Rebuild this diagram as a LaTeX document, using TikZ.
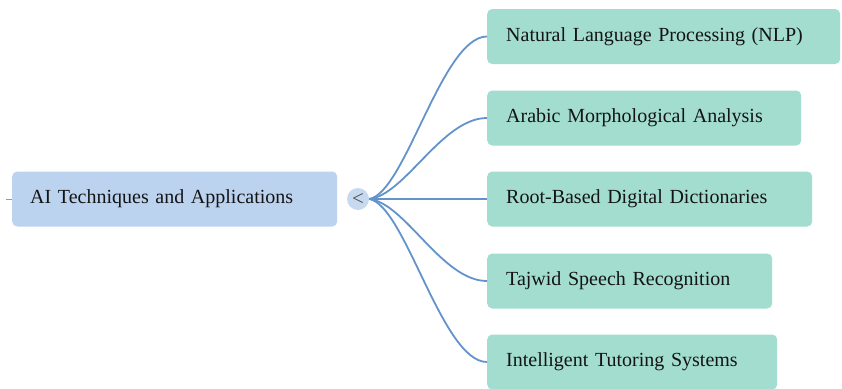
\documentclass[tikz,border=0pt]{standalone}
\usepackage{fontspec}
\setmainfont{Liberation Serif}
\definecolor{rootblue}{HTML}{BCD3EF}
\definecolor{hubblue}{HTML}{C6D9EF}
\definecolor{leafteal}{HTML}{A2DDD0}
\definecolor{linkblue}{HTML}{6393CB}
\definecolor{inkdark}{HTML}{141414}
\begin{document}
\begin{tikzpicture}[x=1pt,y=-1pt]
		\tikzstyle{topic}=[fill=rootblue, rounded corners=5pt, minimum height=55pt, inner ysep=0pt, inner xsep=18pt, anchor=west, align=left, text=inkdark, font=\fontsize{20}{24}\selectfont]
		\tikzstyle{leaf}=[topic, fill=leafteal, inner xsep=19pt]
		\tikzstyle{hub}=[circle, fill=hubblue, minimum size=22pt, inner sep=0pt, text=black!70, font=\fontsize{21}{21}\selectfont]
		\tikzstyle{link} = [draw, line width=1.8pt, linkblue]
		
		\useasboundingbox (0,0) rectangle (842,388);
		
		\node[topic, text width=289pt] (root) at (12,199) {AI Techniques and Applications};
		\node[hub] (hub) at (358,199) {<};
		\coordinate (stub) at (6,199);
		
		\node[leaf, text width=315pt] (nlp) at (487,36.5) {Natural Language Processing (NLP)};
		\node[leaf, text width=276pt] (morph) at (487,118) {Arabic Morphological Analysis};
		\node[leaf, text width=287pt] (dict) at (487,199) {Root-Based Digital Dictionaries};
		\node[leaf, text width=247pt] (tajwid) at (487,281) {Tajwid Speech Recognition};
		\node[leaf, text width=252pt] (tutor) at (487,362) {Intelligent Tutoring Systems};
		
		\draw[black!40, line width=0.8pt] (stub) -- (root.west);
		
		\draw[link] (hub.east) .. controls +(36,-6) and +(-45,0) .. (nlp.west);
		\draw[link] (hub.east) .. controls +(36,-4) and +(-45,0) .. (morph.west);
		\draw[link] (hub.east) -- (dict.west);
		\draw[link] (hub.east) .. controls +(36,4) and +(-45,0) .. (tajwid.west);
		\draw[link] (hub.east) .. controls +(36,6) and +(-45,0) .. (tutor.west);
		\end{tikzpicture}
\end{document}
